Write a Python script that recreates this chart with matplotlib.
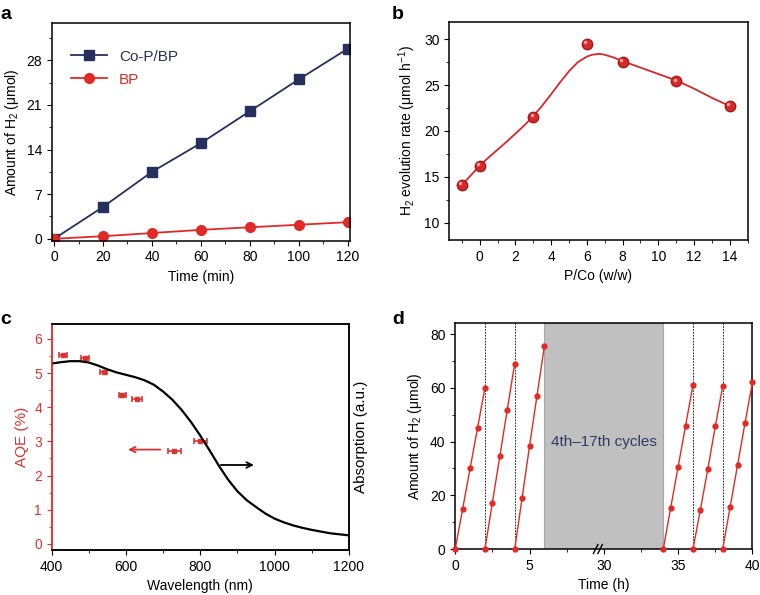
import numpy as np
import matplotlib
matplotlib.use("Agg")
import matplotlib.pyplot as plt
from matplotlib.ticker import MultipleLocator, FixedLocator
from matplotlib.transforms import offset_copy, blended_transform_factory

plt.rcParams['font.family'] = ['Liberation Sans', 'DejaVu Sans']
plt.rcParams['mathtext.default'] = 'regular'
plt.rcParams['font.size'] = 10
plt.rcParams['axes.linewidth'] = 1.1
plt.rcParams['xtick.major.size'] = 3.5
plt.rcParams['ytick.major.size'] = 3.5
plt.rcParams['xtick.minor.size'] = 2
plt.rcParams['ytick.minor.size'] = 2

NAVY = '#26305c'
RED = '#e12a26'

## Panel a data
time_a = [0, 20, 40, 60, 80, 100, 120]
cop_bp = [0, 5.0, 10.5, 15.0, 20.0, 25.0, 29.8]
bp = [0, 0.4, 0.9, 1.4, 1.8, 2.2, 2.6]

## Panel b data
pco = [-1, 0, 3, 6, 8, 11, 14]
rate = [14.1, 16.2, 21.5, 29.5, 27.5, 25.4, 22.7]
fit_x = [-1, -0.5, 0, 0.5, 1, 1.5, 2, 2.5, 3, 3.5, 4, 4.5, 5, 5.5, 6, 6.3, 6.7, 7, 7.5,
         8, 9, 10, 11, 12, 13, 14]
fit_y = [14.1, 15.15, 16.2, 17.1, 17.95, 18.8, 19.7, 20.6, 21.6, 22.75, 24.0, 25.3, 26.5,
         27.5, 28.1, 28.3, 28.4, 28.3, 28.0, 27.6, 26.9, 26.2, 25.5, 24.6, 23.6, 22.7]

## Panel c data
wl = [430, 490, 540, 590, 630, 730, 800]
aqe = [5.52, 5.43, 5.03, 4.35, 4.24, 2.72, 3.0]
wl_err = [10, 10, 10, 10, 13, 18, 18]
abs_x = [400, 425, 450, 475, 500, 525, 550, 575, 600, 625, 650, 675, 700, 725, 750, 775,
         800, 825, 850, 875, 900, 925, 950, 975, 1000, 1025, 1050, 1075, 1100, 1125,
         1150, 1175, 1200]
abs_y = [5.28, 5.32, 5.35, 5.35, 5.31, 5.22, 5.11, 5.02, 4.95, 4.88, 4.79, 4.66, 4.46,
         4.22, 3.92, 3.57, 3.17, 2.74, 2.29, 1.88, 1.54, 1.28, 1.08, 0.89, 0.74, 0.63,
         0.54, 0.47, 0.41, 0.36, 0.31, 0.28, 0.25]

## Panel d data (axis positions: 0-6 h as is, 34-40 h shown at 14-20)
cycle_t = [0, 0.5, 1.0, 1.5, 2.0]
cycle_starts = [0, 2, 4, 14, 16, 18]
cycle_vals = [
    [0, 15.0, 30.0, 45.0, 60.0],
    [0, 17.3, 34.5, 51.8, 69.0],
    [0, 19.0, 38.3, 57.0, 75.5],
    [0, 15.3, 30.6, 45.8, 61.0],
    [0, 14.6, 29.8, 45.6, 60.5],
    [0, 15.6, 31.2, 46.8, 62.0],
]
d_tick_pos = [0, 5, 10, 15, 20]
d_tick_labels = ['0', '5', '30', '35', '40']
dashed_pos = [2, 4, 16, 18]

fig = plt.figure(figsize=(7.6, 5.95), dpi=100)

## a
ax = fig.add_axes([0.068, 0.5955, 0.3925, 0.3663])
ax.plot(time_a, cop_bp, '-s', color=NAVY, ms=6.5, lw=1.3, label='Co-P/BP')
ax.plot(time_a, bp, '-o', color=RED, ms=7, lw=1.3, label='BP')
ax.set_xlim(-1, 121)
ax.set_ylim(-0.3, 33.9)
ax.set_xticks([0, 20, 40, 60, 80, 100, 120])
ax.set_yticks([0, 7, 14, 21, 28])
ax.xaxis.set_minor_locator(MultipleLocator(10))
ax.yaxis.set_minor_locator(MultipleLocator(3.5))
ax.set_xlabel('Time (min)')
ax.set_ylabel('Amount of H$_2$ (μmol)')
leg = ax.legend(loc='upper left', frameon=False, fontsize=11, handlelength=2.3,
                bbox_to_anchor=(0.02, 0.94), labelspacing=0.6)
for txt, c in zip(leg.get_texts(), [NAVY, RED]):
    txt.set_color(c)

## b
ax = fig.add_axes([0.5912, 0.5966, 0.3926, 0.3669])
ax.plot(fit_x, fit_y, '-', color='#d8262a', lw=1.3)
ax.plot(pco, rate, 'o', color='#d42a2a', mec='#a81818', ms=7.5, zorder=3)
hl = offset_copy(ax.transData, fig=fig, x=-1.2, y=1.2, units='points')
ax.plot(pco, rate, 'o', color='#f2a0a0', ms=2.5, mec='none', transform=hl, zorder=4)
ax.set_xlim(-1.7, 15.0)
ax.set_ylim(8.1, 31.9)
ax.set_xticks([0, 2, 4, 6, 8, 10, 12, 14])
ax.set_yticks([10, 15, 20, 25, 30])
ax.xaxis.set_minor_locator(MultipleLocator(1))
ax.yaxis.set_minor_locator(MultipleLocator(2.5))
ax.set_xlabel('P/Co (w/w)')
ax.set_ylabel('H$_2$ evolution rate (μmol h$^{-1}$)')

## c
CRED = '#dd3330'
ax = fig.add_axes([0.068, 0.0756, 0.391, 0.3794])
ax.errorbar(wl, aqe, xerr=wl_err, fmt='s', color=CRED, ms=3, capsize=2, elinewidth=1.2, capthick=1.2)
ax.set_xlim(400, 1200)
ax.set_ylim(-0.18, 6.43)
ax.set_xticks([400, 600, 800, 1000, 1200])
ax.set_yticks([0, 1, 2, 3, 4, 5, 6])
ax.xaxis.set_minor_locator(MultipleLocator(100))
ax.yaxis.set_minor_locator(MultipleLocator(0.5))
ax.set_xlabel('Wavelength (nm)')
ax.set_ylabel('AQE (%)', color=CRED, fontsize=11)
ax.spines['left'].set_color(CRED)
ax.tick_params(axis='y', which='both', colors=CRED)
ax.annotate('', xy=(598, 2.76), xytext=(700, 2.76),
            arrowprops=dict(arrowstyle='->', color=CRED, lw=1.3))
ax2 = ax.twinx()
ax2.plot(abs_x, abs_y, '-', color='black', lw=1.6)
ax2.set_ylim(-0.18, 6.43)
ax2.set_yticks([])
ax2.set_ylabel('Absorption (a.u.)', fontsize=11)
ax2.spines['left'].set_color(CRED)
ax2.annotate('', xy=(952, 2.31), xytext=(848, 2.31),
             arrowprops=dict(arrowstyle='->', color='black', lw=1.3))

## d
ax = fig.add_axes([0.599, 0.0773, 0.391, 0.3793])
ax.axvspan(6, 14, color='#c0c0c0', ec='#a8a8a8', lw=0.8, zorder=0)
for xp in dashed_pos:
    ax.axvline(xp, color='black', ls=(0, (2, 1.5)), lw=0.6, zorder=1)
for start, vals in zip(cycle_starts, cycle_vals):
    ax.plot([start + t for t in cycle_t], vals, '-o', color=RED, ms=3.5, lw=1.0,
            zorder=3, clip_on=False)
ax.text(10, 40, '4th\u201317th cycles', color='#2e3a66', ha='center', va='center', fontsize=11)
ax.set_xlim(0, 20)
ax.set_ylim(0, 84)
ax.xaxis.set_major_locator(FixedLocator(d_tick_pos))
ax.set_xticklabels(d_tick_labels)
ax.xaxis.set_minor_locator(MultipleLocator(2.5))
ax.set_yticks([0, 20, 40, 60, 80])
ax.yaxis.set_minor_locator(MultipleLocator(10))
ax.set_xlabel('Time (h)')
ax.set_ylabel('Amount of H$_2$ (μmol)')
tr = blended_transform_factory(ax.transData, ax.transAxes)
for dx in (-0.25, 0.05):
    ax.plot([9.55 + dx, 9.85 + dx], [-0.02, 0.02], color='black', lw=1.0,
            transform=tr, clip_on=False, zorder=5)

## panel letters
for lx, ly, s in [(0.0, 0.99, 'a'), (0.516, 0.99, 'b'), (0.0, 0.478, 'c'), (0.516, 0.478, 'd')]:
    fig.text(lx, ly, s, fontsize=14, fontweight='bold', va='top', ha='left')

fig.savefig('out.png', dpi=100)
